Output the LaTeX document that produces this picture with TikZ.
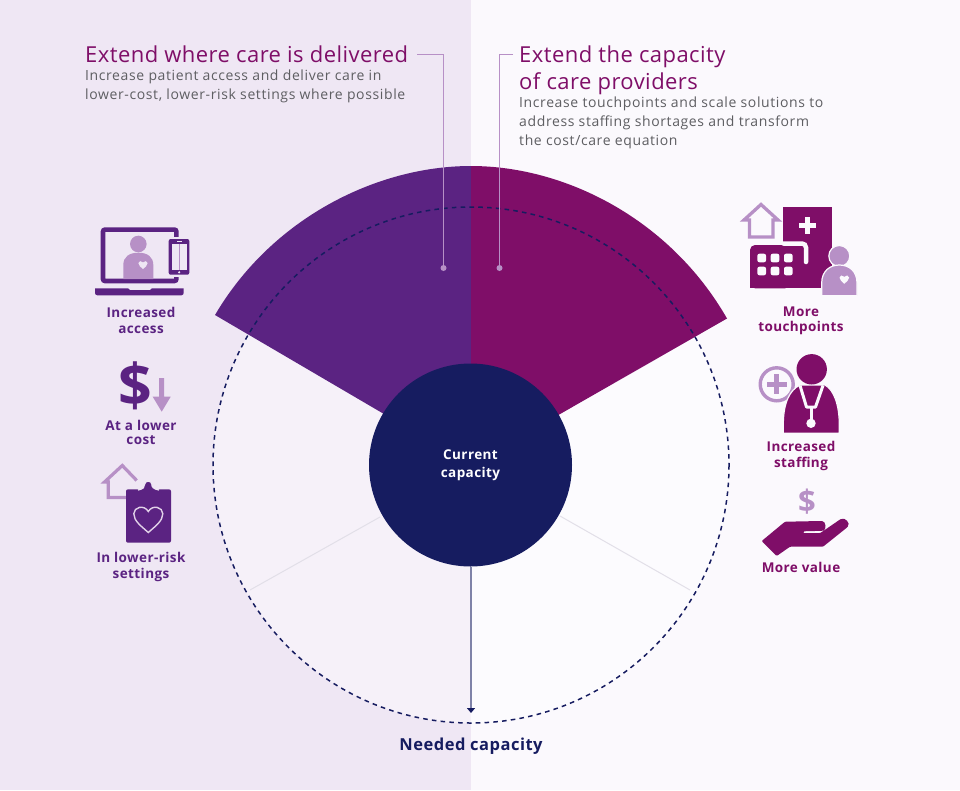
\documentclass[tikz,border=0pt]{standalone}
\usepackage{fontspec}
\setmainfont[LetterSpace=3]{Open Sans}
\newfontfamily\headfont[LetterSpace=2]{Open Sans}
\newfontfamily\subfont[LetterSpace=4.4]{Open Sans}
\usetikzlibrary{arrows.meta,calc}
\definecolor{bgleft}{HTML}{EFE7F4}
\definecolor{bgright}{HTML}{FBF9FD}
\definecolor{inleft}{HTML}{F6F1F9}
\definecolor{inright}{HTML}{FCFBFE}
\definecolor{violet}{HTML}{5B2382}
\definecolor{plum}{HTML}{7F0E68}
\definecolor{navy}{HTML}{161C60}
\definecolor{lilac}{HTML}{B790C6}
\definecolor{bodygrey}{HTML}{5E5E62}
\definecolor{spoke}{HTML}{E2DFE8}
\tikzset{
  heart/.pic={\path[pic actions] (0,1) .. controls (-0.5,0.55) and (-1,0.2) .. (-1,-0.3) .. controls (-1,-0.75) and (-0.3,-0.95) .. (0,-0.45) .. controls (0.3,-0.95) and (1,-0.75) .. (1,-0.3) .. controls (1,0.2) and (0.5,0.55) .. (0,1) -- cycle;},
  headtext/.style={anchor=north west,inner sep=0pt,align=left,font=\headfont\fontsize{22}{27}\selectfont},
  subtext/.style={anchor=north west,inner sep=0pt,align=left,text=bodygrey,font=\subfont\fontsize{14}{19}\selectfont},
  iconlabel/.style={inner sep=0pt,align=center,font=\fontsize{13.5}{15.5}\selectfont\bfseries},
  leader/.style={lilac,line width=1.6pt},
  leaderdot/.style={circle,fill=lilac,inner sep=0pt,minimum size=6pt}
}
\begin{document}
\begin{tikzpicture}[x=1pt,y=-1pt]
\useasboundingbox (0,0) rectangle (960,790);
\fill[bgleft] (0,0) rectangle (471,790);
\fill[bgright] (471,0) rectangle (960,790);
\coordinate (center) at (471,465);
% tinted disc
\fill[inleft] (471,207) arc[start angle=-90,delta angle=-180,radius=258] -- cycle;
\fill[inright] (471,207) arc[start angle=-90,delta angle=180,radius=258] -- cycle;
% wedges
\fill[violet] (center) -- (471,166) .. controls (377,166) and (272,218) .. (215,315) -- cycle;
\fill[plum] (center) -- (471,166) .. controls (565,166) and (670,219) .. (727,318.5) -- cycle;
\draw[navy,line width=1.5pt,dash pattern=on 4.6pt off 4.2pt] (center) circle[radius=258];
% spokes
\coordinate (sl0) at (380,517);
\coordinate (sl1) at (250,590);
\coordinate (sr0) at (560,516);
\coordinate (sr1) at (690,590);
\draw[spoke,line width=1pt] (sl0) -- (sl1);
\draw[spoke,line width=1pt] (sr0) -- (sr1);
% capacity
\node[circle,fill=navy,minimum size=203pt,inner sep=0pt,text=white,align=center,font=\fontsize{13.5}{18}\selectfont\bfseries] (current) at (470.5,465) {Current\\capacity};
\coordinate (needed tip) at (471,713);
\draw[-{Stealth[length=5pt,width=8pt,inset=0pt,color=navy]},navy!55,line width=1.3pt] (needed tip |- current.south) -- (needed tip);
\node[inner sep=0pt,text=navy,font=\fontsize{16.5}{18}\selectfont\bfseries] (needed) at (471,746) {Needed capacity};
% headings
\node[headtext,text=plum] (leftTitle) at (85,45.5) {Extend where care is delivered};
\node[subtext] (leftSub) at (85,70) {Increase patient access and deliver care in\\lower-cost, lower-risk settings where possible};
\node[headtext,text=plum] (rightTitle) at (519,45.5) {Extend the capacity\\of care providers};
\node[subtext] (rightSub) at (519,97) {Increase touchpoints and scale solutions to\\address staffing shortages and transform\\the cost/care equation};
\node[leaderdot] (leftDot) at (443.5,268) {};
\node[leaderdot] (rightDot) at (499.5,268) {};
\coordinate (leftEnd) at (417,54.5);
\coordinate (rightEnd) at (513,54.5);
\draw[leader] (leftEnd) -| (leftDot);
\draw[leader] (rightEnd) -| (rightDot);
% laptop
\draw[violet,line width=4.6pt,rounded corners=2pt] (103,229.6) rectangle (176.4,281);
\fill[violet] (95,288.3) -- (128,288.3) -- (130,290) -- (150,290) -- (152,288.3) -- (183.7,288.3) -- (183.7,293) arc[start angle=0,end angle=90,radius=2.3] -- (97.3,295.3) arc[start angle=90,end angle=180,radius=2.3] -- cycle;
\fill[lilac] (138.3,244) circle[radius=8.3];
\fill[lilac] (123.3,279) -- (123.3,265) .. controls (123.3,257) and (129,252.7) .. (138.3,252.7) .. controls (147.6,252.7) and (153.3,257) .. (153.3,265) -- (153.3,279) -- cycle;
\pic[fill=bgleft,scale=4.6] at (143,264.5) {heart};
\fill[bgleft] (166.5,237) rectangle (191,277);
\fill[violet,rounded corners=2pt] (168.7,239) rectangle (189.3,274.7);
\fill[bgleft] (171.7,244) rectangle (186.7,270);
\draw[lilac,line width=0.5pt] (179.2,244) -- (179.2,270);
\fill[bgleft] (176.7,241) rectangle (181.7,242);
\fill[bgleft] (179.2,272.3) circle[radius=1.2];
% dollar and arrow
\node[inner sep=0pt,text=violet,font=\fontsize{59}{59}\selectfont\bfseries] (dollarLow) at (135.5,386) {\$};
\fill[lilac] (159.2,378) -- (164.2,378) -- (164.2,396.7) -- (170.7,396.7) -- (161.7,411.7) -- (152.7,396.7) -- (159.2,396.7) -- cycle;
% house and clipboard
\draw[lilac,line width=3.2pt,miter limit=4] (136.7,480.5) -- (122.3,465.5) -- (104.5,482) -- (108.3,482) -- (108.3,497.5) -- (136.7,497.5);
\fill[violet,rounded corners=2pt] (126,489.3) rectangle (171,542.7);
\draw[bgleft,line width=1.3pt,fill=violet] (138,490) .. controls (143,489) and (145,487) .. (144.5,484.5) .. controls (144.5,480) and (152,480) .. (152,484.5) .. controls (151.5,487) and (154,489) .. (159,490);
\pic[draw=bgleft!75!lilac,line width=1.4pt,scale=14.5] at (148.3,518) {heart};
% building
\draw[lilac,line width=3.3pt] (744,220) -- (761,204.5) -- (778,220) -- (773,220) -- (773,237) -- (749.5,237) -- (749.5,220) -- cycle;
\fill[plum] (783.3,206.7) rectangle (831.7,288.3);
\fill[plum,rounded corners=5pt] (750,288.3) -- (750,245) -- (790,245) -- (790,288.3) -- cycle;
\fill[plum] (750,275) rectangle (760,288.3);
\fill[bgright] (805,217.3) rectangle (810,234);
\fill[bgright] (799,223.2) rectangle (815.7,228.2);
\draw[bgright,line width=4.5pt,line cap=round,rounded corners=4pt] (783.3,243.5) -- (806,243.5) -- (806,262);
\foreach \wx in {761.7,775,788.3} {
  \foreach \wy in {258,271} {
    \fill[bgright,rounded corners=2pt] (\wx-4.3,\wy-4.3) rectangle (\wx+4.3,\wy+4.3);
  }
}
\fill[lilac,draw=bgright,line width=1.2pt] (839.3,256) circle[radius=10.5];
\fill[lilac,draw=bgright,line width=1.2pt] (821.7,295.7) -- (821.7,283) .. controls (821.7,271) and (830,265) .. (839.3,265) .. controls (849,265) and (857,271) .. (857,283) -- (857,295.7) -- cycle;
\pic[fill=bgright,scale=4.8] at (844.3,279) {heart};
% doctor
\draw[lilac,line width=3.4pt] (776.7,384.3) circle[radius=16.5];
\fill[lilac] (774.2,374.3) rectangle (779.2,394.3);
\fill[lilac] (766.7,381.8) rectangle (786.7,386.8);
\fill[plum,draw=bgright,line width=1.2pt] (783.3,433.3) -- (783.3,425) .. controls (783.3,402) and (790,390) .. (800,385) -- (825,385) .. controls (834,390) and (839.3,405) .. (839.3,425) -- (839.3,433.3) -- cycle;
\fill[plum] (811.7,369.3) circle[radius=15.2];
\draw[bgright,line width=3pt,line join=round] (800,385.5) -- (806.5,407) -- (815.5,407) -- (823,385.5);
\draw[bgright,line width=3pt] (811,407) -- (811,420);
\fill[bgright] (811,423.3) circle[radius=4.7];
% hand
\node[inner sep=0pt,text=lilac,font=\fontsize{31}{31}\selectfont\bfseries] (dollarHand) at (807,501.5) {\$};
\fill[plum,rounded corners=1pt] (761.7,541) -- (785,521.7) -- (821,521) .. controls (826,521) and (827,530) .. (822,530.8) -- (803.3,531.3) -- (803.3,533.2) -- (820,533.2) -- (840,519.5) .. controls (845,517) and (851,523) .. (847,527.5) -- (823,546.7) -- (790,546.7) -- (776.7,556) -- cycle;
% labels
\node[iconlabel,text=violet] (access) at (141,320.5) {Increased\\access};
\node[iconlabel,text=violet,font=\fontsize{13.5}{13.5}\selectfont\bfseries] (cost) at (141,432.5) {At a lower\\cost};
\node[iconlabel,text=violet] (risk) at (141,567) {In lower-risk\\settings};
\node[iconlabel,text=plum] (touch) at (801,321) {More\\touchpoints};
\node[iconlabel,text=plum] (staff) at (801,456) {Increased\\staffing};
\node[iconlabel,text=plum] (value) at (801,567) {More value};
\end{tikzpicture}
\end{document}
